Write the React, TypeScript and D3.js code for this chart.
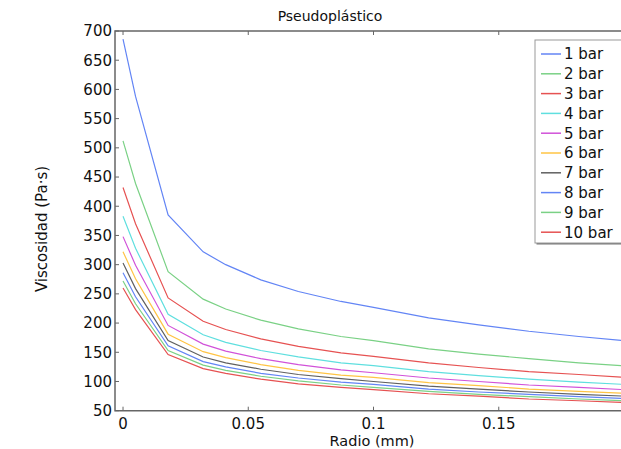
import React, { useEffect, useRef } from "react";
import * as d3 from "d3";

// radio (mm) at the mesh nodes
const RADIO = [0, 0.005, 0.018, 0.032, 0.041, 0.055, 0.07, 0.087, 0.1, 0.122, 0.142, 0.162, 0.182, 0.2];

const BAR_1 = [686, 588, 385, 322, 300, 274, 254, 237, 227, 209, 197, 186, 177, 170];
const BAR_2 = [512, 439, 288, 241, 224, 205, 190, 177, 170, 156, 147, 139, 132, 127];
const BAR_3 = [432, 370, 243, 203, 189, 173, 160, 149, 143, 132, 124, 117, 112, 107];
const BAR_4 = [383, 328, 215, 180, 167, 153, 142, 132, 127, 117, 110, 104, 99, 95];
const BAR_5 = [348, 299, 196, 164, 152, 139, 129, 120, 115, 106, 100, 94, 90, 86];
const BAR_6 = [322, 276, 181, 151, 141, 129, 119, 111, 107, 98, 93, 87, 83, 80];
const BAR_7 = [303, 259, 170, 142, 132, 121, 112, 105, 100, 92, 87, 82, 78, 75];
const BAR_8 = [286, 245, 161, 134, 125, 114, 106, 99, 95, 87, 82, 78, 74, 71];
const BAR_9 = [272, 233, 153, 128, 119, 109, 101, 94, 90, 83, 78, 74, 70, 67];
const BAR_10 = [260, 223, 146, 122, 114, 104, 96, 90, 86, 79, 75, 70, 67, 64];

const LABELS = ["1 bar", "2 bar", "3 bar", "4 bar", "5 bar", "6 bar", "7 bar", "8 bar", "9 bar", "10 bar"];
const SERIES = [BAR_1, BAR_2, BAR_3, BAR_4, BAR_5, BAR_6, BAR_7, BAR_8, BAR_9, BAR_10];
const COLORS = [
    "#6385f5", "#7ad185", "#e65252", "#5fdfdf", "#d152d9",
    "#ffc445", "#606060", "#6385f5", "#7ad185", "#e65252"
];

const Y_TICKS = d3.range(50, 701, 50);
const X_TICKS = [0, 0.05, 0.1, 0.15];

const App = () => {
    const ref = useRef<HTMLDivElement>(null);

    useEffect(() => {
        const W = 621, H = 449;
        const left = 115, top = 31, right = 624, bottom = 410.7;
        const font = "DejaVu Sans, sans-serif";
        const ink = "#111";

        const svg = d3
            .select(ref.current)
            .html("")
            .append("svg")
            .attr("width", W)
            .attr("height", H)
            .style("position", "absolute")
            .style("left", 0)
            .style("top", 0)
            .style("background", "white")
            .style("font-family", font);

        const x = d3.scaleLinear().domain([-0.0032, 0.2]).range([left, right]);
        const y = d3.scaleLinear().domain([50, 700]).range([bottom, top]);

        svg.append("clipPath")
            .attr("id", "plot")
            .append("rect")
            .attr("x", left)
            .attr("y", top)
            .attr("width", right - left)
            .attr("height", bottom - top);

        const line = d3
            .line<number>()
            .x((_, i) => x(RADIO[i]))
            .y((d) => y(d));

        svg.append("g")
            .attr("clip-path", "url(#plot)")
            .selectAll("path")
            .data(SERIES)
            .join("path")
            .attr("d", (d) => line(d))
            .attr("fill", "none")
            .attr("stroke", (_, i) => COLORS[i])
            .attr("stroke-width", 1.2);

        // frame + inward ticks
        const frame = "#666";
        svg.append("path")
            .attr("d", `M${right},${top}H${left}V${bottom}H${right}`)
            .attr("fill", "none")
            .attr("stroke", frame)
            .attr("stroke-width", 1.5);

        Y_TICKS.forEach((t) => {
            svg.append("line")
                .attr("x1", left).attr("x2", left + 4)
                .attr("y1", y(t)).attr("y2", y(t))
                .attr("stroke", frame);
            svg.append("text")
                .attr("x", left - 3)
                .attr("y", y(t))
                .attr("dy", "0.36em")
                .attr("text-anchor", "end")
                .attr("font-size", 15)
                .attr("fill", ink)
                .text(t);
        });

        X_TICKS.forEach((t) => {
            [bottom, top].forEach((yy, k) => {
                svg.append("line")
                    .attr("x1", x(t)).attr("x2", x(t))
                    .attr("y1", yy).attr("y2", k === 0 ? yy - 4 : yy + 4)
                    .attr("stroke", frame);
            });
            svg.append("text")
                .attr("x", x(t))
                .attr("y", 429)
                .attr("text-anchor", "middle")
                .attr("font-size", 15)
                .attr("fill", ink)
                .text(d3.format("~g")(t));
        });

        svg.append("text")
            .attr("x", 330)
            .attr("y", 21)
            .attr("text-anchor", "middle")
            .attr("font-size", 14)
            .attr("fill", ink)
            .text("Pseudoplástico");

        svg.append("text")
            .attr("x", 372)
            .attr("y", 446)
            .attr("text-anchor", "middle")
            .attr("font-size", 14.5)
            .attr("fill", ink)
            .text("Radio (mm)");

        svg.append("text")
            .attr("transform", "translate(47,229) rotate(-90)")
            .attr("text-anchor", "middle")
            .attr("font-size", 15)
            .attr("fill", ink)
            .text("Viscosidad (Pa·s)");

        // legend
        const legend = svg.append("g").attr("transform", "translate(535,40)");

        legend.append("rect")
            .attr("x", 1.5).attr("y", 1.5)
            .attr("width", 95).attr("height", 203)
            .attr("fill", "#777");
        legend.append("rect")
            .attr("x", 0).attr("y", 0)
            .attr("width", 95).attr("height", 203)
            .attr("fill", "white")
            .attr("stroke", "#999")
            .attr("stroke-width", 1);

        LABELS.forEach((lab, i) => {
            const cy = 14 + i * 19.8;
            legend.append("line")
                .attr("x1", 6).attr("x2", 26)
                .attr("y1", cy).attr("y2", cy)
                .attr("stroke", COLORS[i])
                .attr("stroke-width", 1.5);
            legend.append("text")
                .attr("x", 29)
                .attr("y", cy)
                .attr("dy", "0.36em")
                .attr("font-size", 15)
                .attr("fill", ink)
                .text(lab);
        });
    }, []);

    return <div ref={ref} />;
};

export default App;
